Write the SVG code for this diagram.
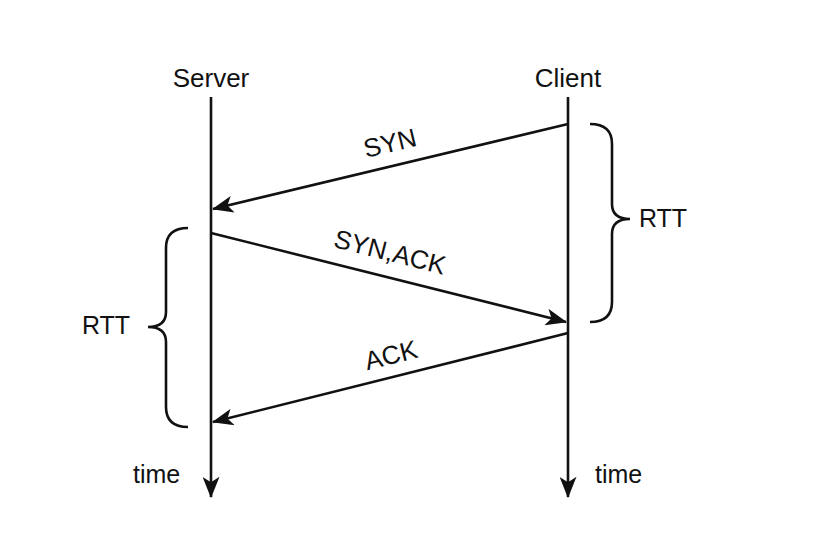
<svg xmlns="http://www.w3.org/2000/svg" width="815" height="546" viewBox="0 0 815 546">
  <style>
    .ln { stroke: #111; stroke-width: 2.6; fill: none; }
    .lbl { font-family: "Liberation Sans", Arial, sans-serif; font-size: 25px; fill: #111; }
    .msg { font-family: "Liberation Sans", Arial, sans-serif; font-size: 26px; fill: #111; text-anchor: middle; }
    .hdr { font-family: "Liberation Sans", Arial, sans-serif; font-size: 26px; fill: #111; text-anchor: middle; }
  </style>
  <defs>
    <marker id="ah" viewBox="0 0 20 16" refX="19" refY="8" markerWidth="22" markerHeight="17" markerUnits="userSpaceOnUse" orient="auto">
      <path d="M0,0 L20,8 L0,16 L5,8 Z" fill="#111"/>
    </marker>
  </defs>
  <rect width="815" height="546" fill="#fff"/>

  <g id="server">
    <text class="hdr" x="211" y="87">Server</text>
    <line class="ln" x1="211" y1="97" x2="211" y2="497" marker-end="url(#ah)"/>
    <text class="lbl" x="133" y="483">time</text>
  </g>

  <g id="client">
    <text class="hdr" x="568" y="87">Client</text>
    <line class="ln" x1="568" y1="97" x2="568" y2="497" marker-end="url(#ah)"/>
    <text class="lbl" x="595" y="483">time</text>
  </g>

  <g id="connectors">
    <line class="ln" x1="568" y1="124" x2="213" y2="209" marker-end="url(#ah)"/>
    <text class="msg" x="390" y="152" transform="rotate(-13.5 390 143)">SYN</text>
    <line class="ln" x1="211" y1="233" x2="566" y2="322" marker-end="url(#ah)"/>
    <text class="msg" x="390" y="261" transform="rotate(14.1 390 252)">SYN,ACK</text>
    <line class="ln" x1="568" y1="333" x2="213" y2="422" marker-end="url(#ah)"/>
    <text class="msg" x="391" y="364" transform="rotate(-14.1 391 355)">ACK</text>
  </g>

  <g id="rtt-right">
    <path class="ln" d="M590,124 Q612,124 612,144 L612,204 Q612,219 630,219 Q612,219 612,234 L612,302 Q612,322 590,322"/>
    <text class="lbl" x="639" y="227">RTT</text>
  </g>

  <g id="rtt-left">
    <path class="ln" d="M188,228 Q166,228 166,248 L166,312 Q166,327 148,327 Q166,327 166,342 L166,407 Q166,427 188,427"/>
    <text class="lbl" x="82" y="334">RTT</text>
  </g>
</svg>
